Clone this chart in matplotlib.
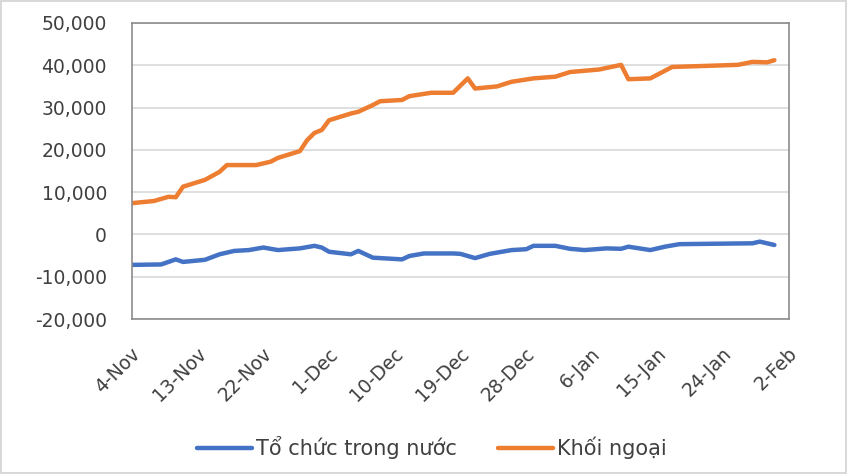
import matplotlib
matplotlib.use("Agg")
import matplotlib.pyplot as plt
import matplotlib.dates as mdates
import matplotlib.ticker as mticker
import matplotlib.transforms as mtransforms
import pandas as pd

# Data (net buy/sell, cumulative)
domestic_dates = ["2021-11-04", "2021-11-08", "2021-11-10", "2021-11-11", "2021-11-14",
                  "2021-11-16", "2021-11-18", "2021-11-20", "2021-11-22", "2021-11-24",
                  "2021-11-27", "2021-11-29", "2021-11-30", "2021-12-01", "2021-12-04",
                  "2021-12-05", "2021-12-07", "2021-12-11", "2021-12-12", "2021-12-14",
                  "2021-12-18", "2021-12-19", "2021-12-21", "2021-12-23", "2021-12-26",
                  "2021-12-28", "2021-12-29", "2022-01-01", "2022-01-03", "2022-01-05",
                  "2022-01-08", "2022-01-10", "2022-01-11", "2022-01-14", "2022-01-16",
                  "2022-01-18", "2022-01-28", "2022-01-29", "2022-01-30", "2022-01-31"]
domestic_values = [-7200, -7100, -5900, -6500, -6000,
                   -4700, -3900, -3700, -3100, -3700,
                   -3300, -2700, -3100, -4100, -4700,
                   -3900, -5500, -5900, -5100, -4500,
                   -4500, -4600, -5600, -4600, -3700,
                   -3500, -2700, -2700, -3400, -3700,
                   -3300, -3400, -2900, -3700, -2900,
                   -2300, -2100, -1700, -2100, -2500]

foreign_dates = ["2021-11-04", "2021-11-07", "2021-11-09", "2021-11-10", "2021-11-11",
                 "2021-11-14", "2021-11-16", "2021-11-17", "2021-11-21", "2021-11-23",
                 "2021-11-24", "2021-11-27", "2021-11-28", "2021-11-29", "2021-11-30",
                 "2021-12-01", "2021-12-04", "2021-12-05", "2021-12-07", "2021-12-08",
                 "2021-12-11", "2021-12-12", "2021-12-15", "2021-12-18", "2021-12-20",
                 "2021-12-21", "2021-12-24", "2021-12-26", "2021-12-29", "2022-01-01",
                 "2022-01-03", "2022-01-07", "2022-01-10", "2022-01-11", "2022-01-14",
                 "2022-01-17", "2022-01-26", "2022-01-28", "2022-01-30", "2022-01-31"]
foreign_values = [7400, 7900, 8900, 8800, 11300,
                  12900, 14800, 16400, 16400, 17200,
                  18100, 19700, 22300, 24000, 24700,
                  27000, 28600, 29000, 30600, 31500,
                  31800, 32700, 33500, 33500, 36900,
                  34500, 35000, 36100, 36900, 37300,
                  38400, 39000, 40100, 36700, 36900,
                  39600, 40100, 40800, 40700, 41200]

series_labels = ["Tổ chức trong nước", "Khối ngoại"]
tick_dates = pd.date_range("2021-11-04", "2022-02-02", freq="9D")

fig = plt.figure(figsize=(8.47, 4.74), dpi=100)
fig.patch.set_edgecolor("#d9d9d9")
fig.patch.set_linewidth(1.5)
ax = fig.add_axes([0.1558, 0.327, 0.7757, 0.6245])

ax.plot(pd.to_datetime(domestic_dates), domestic_values, color="#4472C4",
        linewidth=3.2, label=series_labels[0], solid_capstyle="round")
ax.plot(pd.to_datetime(foreign_dates), foreign_values, color="#ED7D31",
        linewidth=3.2, label=series_labels[1], solid_capstyle="round")

ax.set_ylim(-20000, 50000)
ax.set_yticks(range(-20000, 50001, 10000))
ax.yaxis.set_major_formatter(mticker.FuncFormatter(lambda v, p: "{:,.0f}".format(v)))
ax.set_xlim(tick_dates[0], tick_dates[-1])
ax.set_xticks(tick_dates)
ax.xaxis.set_major_formatter(mdates.DateFormatter("%-d-%b"))

ax.grid(axis="y", color="#d9d9d9", linewidth=1.2)
ax.set_axisbelow(True)
for s in ax.spines.values():
    s.set_color("#8c8c8c")
    s.set_linewidth(1.2)

ax.tick_params(axis="y", length=0, pad=18, labelsize=13.5, labelcolor="#404040")
ax.tick_params(axis="x", length=0, pad=23, labelsize=13.5, labelcolor="#404040")
shift = mtransforms.ScaledTranslation(4 / 72, 0, fig.dpi_scale_trans)
for lbl in ax.get_xticklabels():
    lbl.set_rotation(45)
    lbl.set_ha("right")
    lbl.set_va("center")
    lbl.set_rotation_mode("anchor")
    lbl.set_transform(lbl.get_transform() + shift)

fig.legend(loc="center", bbox_to_anchor=(0.51, 0.055), ncol=2, frameon=False,
           fontsize=15, handlelength=2.6, handletextpad=0.2, columnspacing=2.0,
           labelcolor="#404040")

plt.savefig("out.png", dpi=100)
